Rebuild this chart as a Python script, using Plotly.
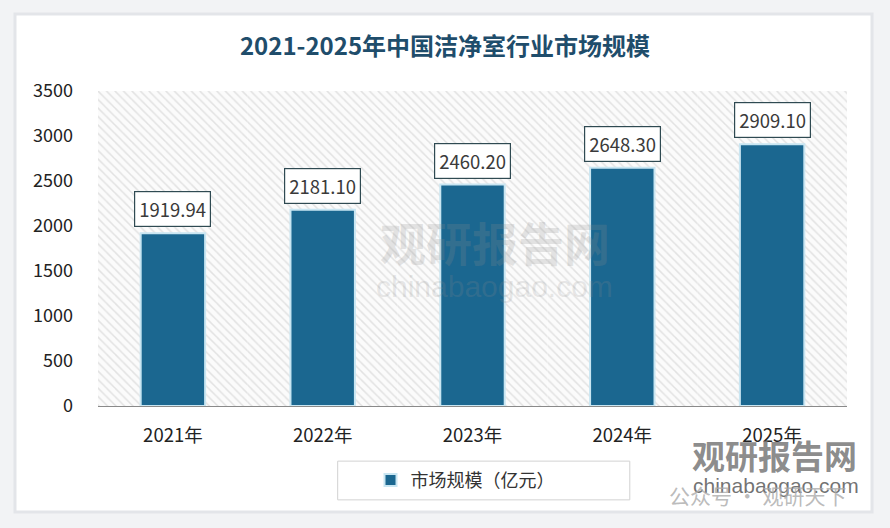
import plotly.graph_objects as go

# data
years = ["2021年", "2022年", "2023年", "2024年", "2025年"]
market_size = [1919.94, 2181.10, 2460.20, 2648.30, 2909.10]
y_ticks = [0, 500, 1000, 1500, 2000, 2500, 3000, 3500]
y_max = 3500

title_text = "2021-2025年中国洁净室行业市场规模"
series_name = "市场规模（亿元）"

FONT = "Noto Sans CJK SC"
BAR_COLOR = "#1b6790"

fig = go.Figure()

# hatched background drawn as full-width patterned bars
fig.add_trace(go.Bar(
    x=years,
    y=[y_max] * len(years),
    width=1,
    marker=dict(
        color="#fafafa",
        line=dict(width=0),
        pattern=dict(shape="\\", fgcolor="#c9c9c9", bgcolor="#fbfbfb", size=6, solidity=0.25),
    ),
    hoverinfo="skip",
    showlegend=False,
))

fig.add_trace(go.Bar(
    x=years,
    y=market_size,
    name=series_name,
    width=0.43,
    marker=dict(color=BAR_COLOR, line=dict(color="#c9e6f2", width=2)),
))

# value labels in white boxes above each bar
for yr, v in zip(years, market_size):
    fig.add_annotation(
        x=yr, y=v, text=f"{v:.2f}",
        showarrow=False, xanchor="center", yanchor="bottom", yshift=6,
        font=dict(family=FONT, size=18.5, color="#3a3a3a"),
        bgcolor="white", bordercolor="#2f4a52", borderwidth=1.2, borderpad=4,
    )

# white card with soft edge
fig.add_shape(type="rect", xref="paper", yref="paper",
              x0=-0.1108, x1=1.0334, y0=-0.3365, y1=1.2444,
              fillcolor="white", line=dict(color="#e3e5e9", width=3), layer="below")

# legend frame
fig.add_shape(type="rect", xref="paper", yref="paper",
              x0=0.32, x1=0.71, y0=-0.298, y1=-0.175,
              fillcolor="white", line=dict(color="#d2d2d2", width=1), layer="below")

# watermarks
fig.add_annotation(xref="paper", yref="paper", x=0.53, y=0.524, text="<b>观研报告网</b>",
                   xanchor="center", yanchor="middle", showarrow=False,
                   font=dict(family=FONT, size=46, color="rgba(140,140,140,0.22)"))
fig.add_annotation(xref="paper", yref="paper", x=0.53, y=0.378, text="chinabaogao.com",
                   xanchor="center", yanchor="middle", showarrow=False,
                   font=dict(family="Liberation Sans", size=30, color="rgba(140,140,140,0.2)"))
fig.add_annotation(xref="paper", yref="paper", x=0.903, y=-0.155, text="<b>观研报告网</b>",
                   xanchor="center", yanchor="middle", showarrow=False,
                   font=dict(family=FONT, size=33, color="rgba(120,120,120,0.85)"))
fig.add_annotation(xref="paper", yref="paper", x=0.905, y=-0.251, text="chinabaogao.com",
                   xanchor="center", yanchor="middle", showarrow=False,
                   font=dict(family="Liberation Sans", size=21, color="rgba(90,90,90,0.85)"))
fig.add_annotation(xref="paper", yref="paper", x=0.88, y=-0.283, text="公众号 · 观研天下",
                   xanchor="center", yanchor="middle", showarrow=False,
                   font=dict(family=FONT, size=21, color="rgba(170,170,170,0.8)"))

fig.update_layout(
    width=890, height=528,
    margin=dict(l=98, r=43, t=91, b=122),
    paper_bgcolor="#f2f3f5",
    plot_bgcolor="rgba(0,0,0,0)",
    barmode="overlay",
    title=dict(text="<b>" + title_text + "</b>", x=0.5, xanchor="center", y=0.911, yanchor="middle",
               font=dict(family=FONT, size=24, color="#1f4d6b")),
    font=dict(family=FONT, size=18, color="#333333"),
    showlegend=True,
    legend=dict(orientation="h", x=0.49, xanchor="center", y=-0.236, yanchor="middle",
                bgcolor="rgba(0,0,0,0)", font=dict(family=FONT, size=18, color="#333333")),
    xaxis=dict(showgrid=False, showline=True, linecolor="#8a8a8a", linewidth=1.2,
               ticks="", ticklabelstandoff=13, tickfont=dict(size=18.5, color="#222222")),
    yaxis=dict(range=[0, y_max], tickvals=y_ticks, showgrid=False, zeroline=False,
               ticks="", ticklabelstandoff=24, tickfont=dict(size=18, color="#222222")),
)

# drop the default page margin so the figure sits at the window's top-left
fig.write_html("out.html", config={"displayModeBar": False},
               post_script="document.body.style.margin='0';")
